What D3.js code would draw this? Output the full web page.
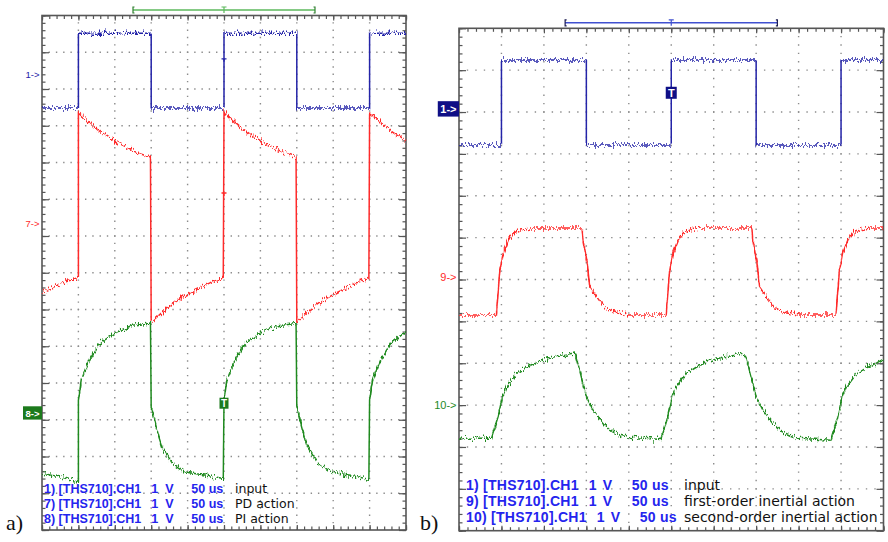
<!DOCTYPE html>
<html>
<head>
<meta charset="utf-8">
<script src="https://cdn.jsdelivr.net/npm/d3@7"></script>
<style>
  html, body { margin: 0; padding: 0; background: #fff; }
  svg { display: block; }
</style>
</head>
<body>
<svg id="scope" width="888" height="542"></svg>
<script>
// ---------------------------------------------------------------------------
// Data: time in microseconds (50 us/div), amplitude in volts (1 V/div),
// each trace measured from its own ground marker.
// ---------------------------------------------------------------------------
const timeTicks = d3.range(0, 501, 50);

// a) input, PD action, PI action
const aNames = ["1", "7", "8"];
const aOffsets = [5.38, 1.35, -3.82];          // ground markers (div from centre)
const aInput = [[0,-0.90],[50,-0.90],[50,1.14],[150,1.14],[150,-0.90],[250,-0.90],
  [250,1.14],[350,1.14],[350,-0.90],[450,-0.90],[450,1.14],[500,1.14]];
const aPD = [[0,-1.88],[12,-1.78],[25,-1.65],[38,-1.56],[50,-1.48],
  [50,2.99],[64,2.75],[77,2.53],[91,2.34],[105,2.18],[119,2.04],[132,1.90],[149,1.80],
  [150,-2.69],[164,-2.45],[177,-2.23],[191,-2.04],[205,-1.88],[219,-1.74],[232,-1.61],[249,-1.50],
  [250,3.02],[264,2.77],[277,2.55],[291,2.35],[305,2.19],[319,2.05],[332,1.92],[349,1.81],
  [350,-2.70],[364,-2.46],[377,-2.24],[391,-2.05],[405,-1.89],[419,-1.75],[432,-1.62],[449,-1.50],
  [450,3.00],[464,2.76],[477,2.54],[491,2.35],[500,2.22]];
const aPI = [[0,-1.63],[15,-1.70],[30,-1.76],[45,-1.85],[50,-1.88],
  [50,0.35],[54,0.90],[65,1.44],[79,1.90],[102,2.20],[124,2.39],[149,2.45],
  [150,0.16],[157,-0.38],[161,-0.68],[165,-0.93],[179,-1.36],[198,-1.61],[226,-1.69],[249,-1.78],
  [250,0.35],[254,0.90],[265,1.44],[279,1.90],[302,2.20],[324,2.38],[349,2.44],
  [350,0.16],[357,-0.38],[361,-0.68],[365,-0.93],[379,-1.36],[398,-1.61],[426,-1.70],[449,-1.80],
  [450,0.36],[454,0.90],[465,1.44],[479,1.90],[500,2.22]];
const aTrigger = [250, 0.27];                   // on channel 8
const aLevelMarks = [[0, 250, 0.44], [1, 250, 0.82]];
const aLegendCh = ["1) [THS710].CH1", "7) [THS710].CH1", "8) [THS710].CH1"];
const aLegendDesc = ["input", "PD action", "PI action"];

// b) input, first-order and second-order inertial action
const bNames = ["1", "9", "10"];
const bOffsets = [4.07, 0.06, -3.0];
const bInput = [[0,-0.86],[50,-0.86],[50,1.17],[150,1.17],[150,-0.86],[250,-0.86],
  [250,1.17],[350,1.17],[350,-0.86],[450,-0.86],[450,1.17],[500,1.17]];
const bFirst = [[0,-0.91],[44,-0.91],[48,0.13],[52,0.57],[58,0.88],[64,1.05],[72,1.12],[84,1.17],
  [145,1.17],[146,0.88],[151,0.33],[154,-0.24],[163,-0.50],[172,-0.74],[186,-0.86],[200,-0.91],
  [244,-0.91],[248,0.13],[252,0.57],[258,0.88],[264,1.05],[272,1.12],[284,1.17],
  [345,1.17],[346,0.88],[351,0.33],[354,-0.24],[363,-0.50],[372,-0.74],[386,-0.86],[400,-0.91],
  [444,-0.91],[448,0.13],[452,0.57],[458,0.88],[464,1.05],[472,1.12],[484,1.17],[500,1.17]];
const bSecond = [[0,-0.79],[38,-0.79],[46,-0.28],[51,0.19],[56,0.44],[68,0.76],[80,0.91],[92,1.03],
  [111,1.15],[137,1.22],[143,0.76],[150,0.20],[158,-0.12],[170,-0.43],[181,-0.64],[190,-0.72],
  [200,-0.77],[238,-0.82],[246,-0.28],[251,0.19],[256,0.44],[268,0.76],[280,0.91],[292,1.03],
  [311,1.15],[337,1.22],[343,0.76],[350,0.20],[358,-0.12],[370,-0.43],[381,-0.64],[390,-0.72],
  [400,-0.79],[438,-0.84],[446,-0.30],[451,0.17],[456,0.42],[468,0.74],[480,0.89],[492,1.01],[500,1.10]];
const bTrigger = [250, 0.39];                   // on channel 1
const bLevelMarks = [];
const bLegendCh = ["1) [THS710].CH1", "9) [THS710].CH1", "10) [THS710].CH1"];
const bLegendDesc = ["input", "first-order inertial action", "second-order inertial action"];

const legendVolts = "1", legendUnit = "V", legendTime = "50 us";
const windowSpan = [125, 375];

// ---------------------------------------------------------------------------
const svg = d3.select("#scope");
const defs = svg.append("defs");

// acquisition noise on the traces (vertical jitter only)
const f = defs.append("filter").attr("id", "jitter")
  .attr("filterUnits", "userSpaceOnUse")
  .attr("x", 0).attr("y", 0).attr("width", 888).attr("height", 542)
  .attr("color-interpolation-filters", "sRGB");
f.append("feTurbulence").attr("type", "fractalNoise")
  .attr("baseFrequency", "1.1 0.12").attr("numOctaves", 3).attr("seed", 7).attr("result", "n");
f.append("feColorMatrix").attr("in", "n").attr("type", "matrix")
  .attr("values", "0 0 0 0 0.5  0 1 0 0 0  0 0 0 0 0  0 0 0 0 1").attr("result", "m");
f.append("feDisplacementMap").attr("in", "SourceGraphic").attr("in2", "m")
  .attr("scale", 10).attr("xChannelSelector", "R").attr("yChannelSelector", "G");

const FONT = "'Liberation Sans', Arial, Helvetica, sans-serif";
const WIDE = "'DejaVu Sans', Verdana, sans-serif";
const FRAME = "#565656";

function drawPanel(p) {
  const g = svg.append("g");
  const x = d3.scaleLinear().domain([0, 500]).range([p.x0, p.x1]);
  const y = d3.scaleLinear().domain([p.rows / 2, -p.rows / 2]).range([p.y0, p.y1]);
  const minorX = (p.x1 - p.x0) / 50;
  const minorY = (p.y1 - p.y0) / (p.rows * 5);
  const divs = d3.range(0, p.rows + 1).map(i => -p.rows / 2 + i);
  const minorDivs = d3.range(0, p.rows * 5 + 1).map(i => -p.rows / 2 + i / 5);
  const minorT = d3.range(0, 501, 10);

  // dotted graticule
  const grid = g.append("g").attr("stroke", "#8c8c8c").attr("stroke-width", 1.4);
  timeTicks.slice(1, -1).forEach(t => {
    grid.append("line").attr("x1", x(t)).attr("x2", x(t)).attr("y1", p.y0).attr("y2", p.y1)
      .attr("stroke-dasharray", `1.4 ${minorY - 1.4}`).attr("stroke-dashoffset", 0.7);
  });
  divs.slice(1, -1).forEach(d => {
    grid.append("line").attr("y1", y(d)).attr("y2", y(d)).attr("x1", p.x0).attr("x2", p.x1)
      .attr("stroke-dasharray", `1.4 ${minorX - 1.4}`).attr("stroke-dashoffset", 0.7);
  });

  // frame ticks
  const axes = [
    [d3.axisTop(x), `translate(0,${p.y0})`, minorT, timeTicks, 3.5, 5],
    [d3.axisBottom(x), `translate(0,${p.y1})`, minorT, timeTicks, 3.5, 5],
    [d3.axisLeft(y), `translate(${p.x0},0)`, minorDivs, divs, 3.5, 7],
    [d3.axisRight(y), `translate(${p.x1},0)`, minorDivs, divs, 3.5, 7]
  ];
  axes.forEach(([ax, tr, minor, major, lm, lM]) => {
    [[minor, lm], [major, lM]].forEach(([vals, len]) => {
      const a = g.append("g").attr("transform", tr)
        .call(ax.tickValues(vals).tickSize(-len).tickFormat(""));
      a.select(".domain").remove();
      a.selectAll("line").attr("stroke", FRAME).attr("stroke-width", 1.2);
    });
  });
  g.append("rect").attr("x", p.x0).attr("y", p.y0)
    .attr("width", p.x1 - p.x0).attr("height", p.y1 - p.y0)
    .attr("fill", "none").attr("stroke", FRAME).attr("stroke-width", 1.6);

  // traces
  const clipId = "clip" + p.id;
  defs.append("clipPath").attr("id", clipId).append("rect")
    .attr("x", p.x0).attr("y", p.y0 - 2).attr("width", p.x1 - p.x0).attr("height", p.y1 - p.y0 + 4);
  const tg = g.append("g").attr("clip-path", `url(#${clipId})`);
  p.series.forEach((s, i) => {
    const line = d3.line().x(d => x(d[0])).y(d => y(p.offsets[i] + d[1]));
    tg.append("path").datum(s).attr("d", line)
      .attr("fill", "none").attr("stroke", p.colors[i]).attr("stroke-width", 1.5)
      .attr("stroke-linejoin", "round").attr("filter", "url(#jitter)");
  });

  // trigger level ticks on the traces
  p.levelMarks.forEach(([ci, t, v]) => {
    const cx = x(t), cy = y(p.offsets[ci] + v);
    g.append("path").attr("d", `M${cx - 2.5},${cy}H${cx + 2.5}M${cx},${cy}V${cy + 3}`)
      .attr("stroke", p.colors[ci]).attr("stroke-width", 1.3).attr("fill", "none");
  });

  // trigger box
  {
    const ci = p.triggerCh;
    const cx = x(p.trigger[0]), cy = y(p.offsets[ci] + p.trigger[1]);
    g.append("rect").attr("x", cx - p.tw / 2).attr("y", cy - p.th / 2)
      .attr("width", p.tw).attr("height", p.th).attr("fill", p.boxColors[ci]);
    g.append("text").attr("x", cx).attr("y", cy + p.th * 0.33)
      .attr("text-anchor", "middle").attr("fill", "#fff")
      .attr("font-family", FONT).attr("font-weight", "bold")
      .attr("font-size", p.th - 1).text("T");
  }

  // channel ground markers
  p.names.forEach((n, i) => {
    const cy = y(p.offsets[i]);
    const label = n + "->";
    if (p.boxed[i]) {
      const tmp = g.append("text").attr("font-family", FONT).attr("font-size", p.markerSize)
        .attr("font-weight", "bold").text(label);
      const w = tmp.node().getComputedTextLength();
      tmp.remove();
      g.append("rect").attr("x", p.x0 - w - 5).attr("y", cy - p.markerSize * 0.72)
        .attr("width", w + 5).attr("height", p.markerSize * 1.4).attr("fill", p.boxColors[i]);
      g.append("text").attr("x", p.x0 - 2.5).attr("y", cy + p.markerSize * 0.36)
        .attr("text-anchor", "end").attr("fill", "#fff").attr("font-family", FONT)
        .attr("font-weight", "bold").attr("font-size", p.markerSize).text(label);
    } else {
      g.append("text").attr("x", p.x0 - 2.5).attr("y", cy + p.markerSize * 0.36)
        .attr("text-anchor", "end").attr("fill", p.colors[i]).attr("font-family", FONT)
        .attr("font-size", p.markerSize).text(label);
    }
  });

  // acquisition window bracket above the screen
  {
    const by = p.y0 - 5.5, xa = x(windowSpan[0]), xb = x(windowSpan[1]), xt = x(p.trigger[0]);
    g.append("line").attr("x1", xa).attr("x2", xb).attr("y1", by).attr("y2", by)
      .attr("stroke", p.bracketColor).attr("stroke-width", 1.5);
    g.append("path")
      .attr("d", `M${xa + 1.5},${by - 3}H${xa}V${by + 3}H${xa + 1.5}M${xb - 1.5},${by - 3}H${xb}V${by + 3}H${xb - 1.5}`)
      .attr("stroke", p.bracketEnd).attr("stroke-width", 1.2).attr("fill", "none");
    g.append("path").attr("d", `M${xt - 2.5},${by - 3}H${xt + 2.5}M${xt},${by - 3}V${by + 3}`)
      .attr("stroke", p.bracketColor).attr("stroke-width", 1.2).attr("fill", "none");
  }

  // legend: bold channel settings, plain description
  const bold = (s, xx, yy) => g.append("text").attr("x", xx).attr("y", yy)
    .attr("font-family", FONT).attr("font-weight", "bold").attr("font-size", p.legendSize)
    .attr("letter-spacing", p.legendSpacing).attr("fill", "#2424ee").text(s);
  p.legendCh.forEach((ch, i) => {
    const by = p.legendY[i];
    const head = bold(ch, p.legendX, by);
    const end = p.legendX + head.node().getComputedTextLength();
    bold(legendVolts, end + p.gaps[0], by);
    bold(legendUnit, end + p.gaps[1], by);
    bold(legendTime, end + p.gaps[2], by);
    g.append("text").attr("x", p.descX).attr("y", by)
      .attr("font-family", WIDE).attr("font-size", p.descSize)
      .attr("fill", "#111").text(p.legendDesc[i]);
  });

  // panel caption
  svg.append("text").attr("x", p.capX).attr("y", 530)
    .attr("font-family", "'Liberation Serif', 'Times New Roman', serif")
    .attr("font-size", 22).attr("fill", "#111").text(p.caption);
}

drawPanel({
  id: "a", x0: 42, x1: 406, y0: 15.5, y1: 530, rows: 14,
  series: [aInput, aPD, aPI], offsets: aOffsets, names: aNames,
  colors: ["#2424a8", "#ff2a2a", "#1f8a1f"], boxColors: ["#1b1b8c", "#d01818", "#1c7a1c"],
  boxed: [false, false, true], markerSize: 9.5,
  trigger: aTrigger, triggerCh: 2, tw: 9, th: 11, levelMarks: aLevelMarks,
  bracketColor: "#5cb85c", bracketEnd: "#2f7f2f",
  legendCh: aLegendCh, legendDesc: aLegendDesc, legendX: 44, legendY: [493, 508, 523],
  legendSize: 12.5, legendSpacing: 0, gaps: [10, 24, 50],
  descX: 235, descSize: 12.5,
  caption: "a)", capX: 6
});

drawPanel({
  id: "b", x0: 459, x1: 883.5, y0: 28.3, y1: 530.7, rows: 12,
  series: [bInput, bFirst, bSecond], offsets: bOffsets, names: bNames,
  colors: ["#2424a8", "#ff2a2a", "#1f8a1f"], boxColors: ["#0f0f86", "#d01818", "#1c7a1c"],
  boxed: [true, false, false], markerSize: 11,
  trigger: bTrigger, triggerCh: 0, tw: 11, th: 12, levelMarks: bLevelMarks,
  bracketColor: "#4050d0", bracketEnd: "#1a1a50",
  legendCh: bLegendCh, legendDesc: bLegendDesc, legendX: 466, legendY: [490, 506, 522],
  legendSize: 14, legendSpacing: 0.25, gaps: [10, 24, 53],
  descX: 684, descSize: 14,
  caption: "b)", capX: 420
});
</script>
</body>
</html>
